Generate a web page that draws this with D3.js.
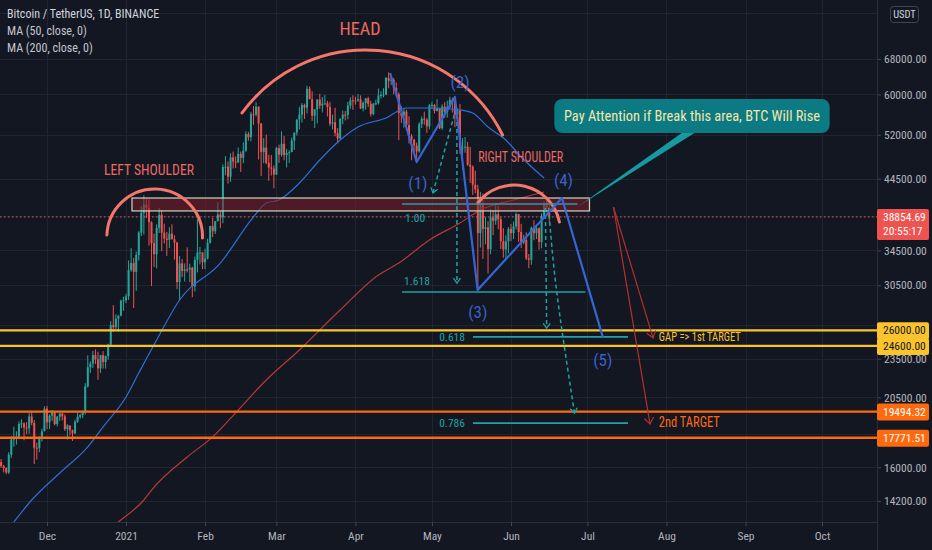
<!DOCTYPE html>
<html><head><meta charset="utf-8">
<script src="https://cdn.jsdelivr.net/npm/d3@7"></script>
<style>
html,body{margin:0;padding:0;background:#131722;}
svg{display:block;}
</style></head>
<body>
<svg id="chart" width="932" height="550"></svg>
<script>
// ---------------- DATA ----------------
const candleStart = "2020-11-12";
// daily candles [open, high, low, close], BTC/USDT
const ohlc = [
[15290,16340,15110,16310],[16310,16480,15970,16070],[16070,16140,15710,15960],[15960,16000,15620,15710],[15710,16880,15620,16730],[16730,17860,16540,17660],[17660,18480,17210,17780],
[17780,18180,17340,17810],[17810,18820,17760,18660],[18660,18970,18400,18700],[18700,18750,17610,18420],[18420,18770,18000,18370],[18370,19420,18020,19160],[19160,19480,18570,18720],
[18720,18920,16190,17150],[17150,17460,16440,17140],[17140,17850,16880,17720],[17720,18350,17530,18180],[18180,19860,18180,19700],[19700,19890,18320,18770],[18770,19310,18330,19210],
[19210,19600,18870,19420],[19420,19530,18570,18650],[18650,19180,18500,19150],[19150,19420,18860,19360],[19360,19420,18900,19170],[19170,19300,18200,18320],[18320,18640,17650,18550],
[18550,18560,17910,18250],[18250,18290,17570,18040],[18040,18950,18020,18810],[18810,19410,18730,19140],[19140,19350,19000,19250],[19250,19570,19050,19420],[19420,21560,19290,21310],
[21310,23800,21230,22810],[22810,23290,22350,23110],[23110,24170,22750,23820],[23820,24300,23060,23460],[23460,24100,21820,22720],[22720,23840,22350,23810],[23810,24150,22700,23240],
[23240,23780,22700,23730],[23730,24790,23430,24710],[24710,26870,24500,26490],[26490,28420,25860,26280],[26280,27500,26100,27080],[27080,27410,25880,27390],[27390,28990,27320,28880],
[28880,29300,27850,28920],[28920,29600,28620,29330],[29330,33300,28950,32180],[32180,34780,32000,33000],[33000,33600,28130,31990],[31990,34360,29900,33950],[33950,36940,33290,36770],
[36770,40370,36300,39430],[39430,41950,36500,40580],[40580,41380,38720,40090],[40090,41350,35110,38150],[38150,38260,30420,35400],[35400,36630,32530,34050],[34050,37850,32380,37370],
[37370,40100,36700,39150],[39150,39750,34410,36740],[36740,37950,35360,36000],[36000,36850,33850,35830],[35830,37470,34800,36630],[36630,37850,35900,35890],[35890,36420,33400,35470],
[35470,35600,30070,30850],[30850,33830,28850,32950],[32950,33460,31390,32080],[32080,32950,30900,32260],[32260,34880,31910,32250],[32250,32920,30840,32470],[32470,32560,29240,30370],
[30370,33780,29840,33360],[33360,38530,31920,34250],[34250,34930,32830,34260],[34260,34290,32300,33090],[33090,34720,32300,33530],[33530,35980,33420,35470],[35470,37660,35360,37620],
[37620,38710,36160,36940],[36940,38310,36570,38290],[38290,40960,38220,39190],[39190,39700,37350,38800],[38800,46790,37990,46370],[46370,48200,45020,46420],[46420,47310,43730,44810],
[44810,48680,43990,47970],[47970,48990,46130,47290],[47290,48150,46200,47150],[47150,49700,47000,48580],[48580,49000,45570,47910],[47910,50600,47010,49130],[49130,52620,48950,52120],
[52120,52530,50900,51550],[51550,56370,50810,55910],[55910,57560,53860,55840],[55840,58350,55480,57410],[57410,57530,47620,54090],[54090,54180,44890,48890],[48890,51370,47000,49680],
[49680,52040,46820,47070],[47070,48430,44160,46280],[46280,48390,45000,46110],[46110,46640,43000,45140],[45140,49790,45120,49590],[49590,50200,47050,48440],[48440,52640,48100,50350],
[50350,51770,47500,48370],[48370,49450,46300,48750],[48750,49200,47070,48880],[48880,51450,48880,50970],[50970,52400,49270,52380],[52380,54900,51850,54880],[54880,57390,53000,55850],
[55850,58150,54270,57770],[57770,58060,55000,57220],[57220,61840,56080,61190],[61190,61680,58970,58970],[58970,60630,54600,55610],[55610,56940,53270,56900],[56900,58990,54120,58910],
[58910,60100,57020,57650],[57650,59470,56270,58030],[58030,59880,57820,58100],[58100,58640,55480,57350],[57350,58420,53650,54080],[54080,55830,53000,54340],[54340,57200,51700,52300],
[52300,53240,50430,51290],[51290,55070,51280,55030],[55030,56640,53960,55820],[55820,56560,54690,55780],[55780,58400,54900,57640],[57640,59370,57000,58750],[58750,59800,56770,58740],
[58740,59490,57850,58720],[58720,60040,58430,58960],[58960,59760,56960,57060],[57060,58500,56480,58200],[58200,59250,56800,59130],[59130,59480,57350,57990],[57990,58650,55470,55950],
[55950,58150,55700,58080],[58080,58880,57700,58140],[58140,61250,57870,59770],[59770,60680,59130,59860],[59860,61300,59360,59970],[59970,63800,59810,63580],[63580,64850,61300,62960],
[62960,63800,62020,63160],[63160,63590,60000,61330],[61330,62580,59600,60010],[60010,60400,51000,56150],[56150,57530,54220,55630],[55630,57100,53330,56430],[56430,56820,53620,53790],
[53790,55500,50400,51690],[51690,52130,47500,51130],[51130,51170,48750,50050],[50050,50580,47000,49000],[49000,54360,48800,54020],[54020,55460,53250,55030],[55030,56430,53880,54830],
[54830,55200,52330,53560],[53560,57960,53010,57700],[57700,58450,57050,57800],[57800,57950,56040,56580],[56580,58980,56480,57170],[57170,57200,53050,53200],[53200,57910,52900,57440],
[57440,58360,55200,56390],[56390,58650,55240,57310],[57310,59500,56970,58860],[58860,59300,56240,58240],[58240,59500,53400,55820],[55820,56870,54370,56670],[56670,58000,48600,49630],
[49630,51360,46000,49670],[49670,51560,48800,49840],[49840,50700,46560,46760],[46760,49800,43830,46430],[46430,46640,42000,43540],[43540,45800,42250,42850],[42850,43550,30000,36690],
[36690,42460,34850,40530],[40530,42200,33490,37250],[37250,38830,35260,37450],[37450,38280,31800,34660],[34660,39920,34040,38800],[38800,39800,36420,38320],[38320,40840,37800,39240],
[39240,40410,37200,38530],[38530,38860,34680,35660],[35660,37340,33630,34610],[34610,36400,33380,35640],[35640,37490,34150,37250],[37250,37900,35670,36690],[36690,38230,35920,37570],
[37570,39480,37170,39250],[39250,39290,35560,36830],[36830,37920,34800,35510],[35510,36490,35260,35800],[35800,36790,33350,33550],[33550,34070,32400,33380],[33380,37530,32800,37390],
[37390,38400,35780,36680],[36680,37690,35920,37330],[37330,37440,34600,35550],[35550,39380,34760,39020],[39020,41060,38730,40520],[40520,41330,39510,40140],[40140,40530,38120,38855]
];
// moving averages [date, value]
const ma50 = [["2020-11-12",12300],["2020-11-18",13180],["2020-11-25",14250],["2020-12-06",15680],["2020-12-17",17200],["2020-12-23",18460],["2021-01-01",20530],["2021-01-06",22350],["2021-01-13",25120],["2021-01-22",28950],["2021-02-07",33000],["2021-02-20",38850],["2021-02-25",40820],["2021-03-02",41260],["2021-03-10",43820],["2021-03-18",47540],["2021-03-26",51030],["2021-04-02",53430],["2021-04-13",55170],["2021-04-21",57160],["2021-04-30",57160],["2021-05-12",56760],["2021-05-17",56160],["2021-05-23",53430],["2021-05-30",51030],["2021-06-05",48050],["2021-06-14",44600]];
const ma200 = [["2020-12-20",12300],["2020-12-29",13180],["2021-01-08",14250],["2021-01-11",14760],["2021-01-25",16600],["2021-02-04",17820],["2021-02-14",19600],["2021-02-25",21800],["2021-03-10",24250],["2021-03-26",27940],["2021-04-10",31630],["2021-04-18",33000],["2021-04-30",35810],["2021-05-12",38030],["2021-05-20",39820],["2021-06-02",41260],["2021-06-14",42450]];
// price scale grid levels; labelled ones are those not hidden behind badges
const priceGrid = [80000,68000,60000,52000,44500,39000,34500,30500,26500,23500,20500,18000,16000,14200];
const priceLabels = [68000,60000,52000,44500,34500,30500,23500,20500,16000,14200];
const monthTicks = ["2020-12-01","2021-01-01","2021-02-01","2021-03-01","2021-04-01","2021-05-01","2021-06-01","2021-07-01","2021-08-01","2021-09-01","2021-10-01"];
const monthLabels = ["Dec","2021","Feb","Mar","Apr","May","Jun","Jul","Aug","Sep","Oct"];
const legendLines = ["Bitcoin / TetherUS, 1D, BINANCE","MA (50, close, 0)","MA (200, close, 0)"];
const lastPrice = 38854.69;
const countdown = "20:55:17";
const yellowLevels = [26000, 24600];
const orangeLevels = [19494.32, 17771.51];
// drawings
const headArc = [["2021-02-15T12:00Z",56160],["2021-04-06T00:00Z",70200],["2021-05-28T17:00Z",51950]];
const leftShoulderArc = [["2020-12-24T12:00Z",36450],["2021-01-13T00:00Z",42900],["2021-01-31T00:00Z",36060]];
const rightShoulderArc = [["2021-05-19T00:00Z",40820],["2021-06-03T00:00Z",43510],["2021-06-20T00:00Z",38160]];
const zoneBox = [["2021-01-03T08:00Z",41550],["2021-07-01T19:00Z",39690]];
const wavePoints = [["2021-04-14T14:00Z",64710],["2021-04-25T00:00Z",47210],["2021-05-10T00:00Z",59430],["2021-05-18T22:00Z",30000],["2021-06-21T00:00Z",41550],["2021-07-07T00:00Z",25400]];
const waveLabels = ["(1)","(2)","(3)","(4)","(5)"];
const waveLabelAt = [["2021-04-25T12:00Z",43820],["2021-05-12T00:00Z",62680],["2021-05-19T00:00Z",27740],["2021-06-21T14:00Z",44290],["2021-07-07T00:00Z",23400]];
const fibLabels = ["1.00","1.618","0.618","0.786"];
const fibPrices = [40680, 29780, 25400, 18710];
const fibFrom = ["2021-04-19T07:00Z","2021-04-19T07:00Z","2021-05-17T02:00Z","2021-05-17T02:00Z"];
const fibTo = ["2021-06-27T02:00Z","2021-06-30T05:00Z","2021-07-16T22:00Z","2021-07-16T22:00Z"];
const projections = [
  [["2021-05-10T12:00Z",57160],["2021-05-06T00:00Z",49250],["2021-05-01T10:00Z",42300]],
  [["2021-05-10T19:00Z",57160],["2021-05-10T19:00Z",30740]],
  [["2021-06-14T12:00Z",40110],["2021-06-15T00:00Z",26200]],
  [["2021-06-15T19:00Z",40110],["2021-06-19T00:00Z",29680],["2021-06-25T22:00Z",19390]]
];
const targetArrows = [
  [["2021-07-11T05:00Z",40250],["2021-07-26T17:00Z",25310]],
  [["2021-07-11T05:00Z",40250],["2021-07-25T13:00Z",18650]]
];
const headText = ["HEAD", "2021-04-02T19:00Z", 75900];
const leftShoulderText = ["LEFT SHOULDER", "2021-01-10T00:00Z", 45890];
const rightShoulderText = ["RIGHT SHOULDER", "2021-06-04T19:00Z", 48050];
const target1Text = ["GAP => 1st TARGET", "2021-07-29T00:00Z", 25400];
const target2Text = ["2nd TARGET", "2021-07-29T00:00Z", 18770];
const calloutText = "Pay Attention if Break this area, BTC Will Rise";
const calloutBox = [["2021-06-18T00:00Z",59010],["2021-10-04T00:00Z",52320]];
const calloutTip = ["2021-06-27T00:00Z",40250];
const calloutBase = ["2021-08-08T02:00Z","2021-08-13T05:00Z"];

// ---------------- CHART ----------------
const W = 932, H = 550, plotR = 877, plotB = 522;
const FONT = "'Liberation Sans Narrow','Roboto Condensed','DejaVu Sans Condensed','Liberation Sans',sans-serif";
const BG = "#131722";
const svg = d3.select("#chart").style("font-family", FONT);
svg.append("rect").attr("width", W).attr("height", H).attr("fill", BG);

const x = d3.scaleUtc().domain([new Date("2020-12-01T00:00Z"), new Date("2021-10-01T00:00Z")]).range([47, 822]);
const y = d3.scaleLog().domain([68000, 14200]).range([59, 501]);
const X = s => x(new Date(s.length === 10 ? s + "T00:00Z" : s));
const P = d => [X(d[0]), y(d[1])];

const defs = svg.append("defs");
defs.append("clipPath").attr("id", "plot").append("rect").attr("x", 0).attr("y", 0).attr("width", plotR).attr("height", plotB);

// grid
const grid = svg.append("g").attr("clip-path", "url(#plot)");
grid.selectAll(".hg").data(priceGrid).join("line")
  .attr("x1", 0).attr("x2", plotR).attr("y1", d => Math.round(y(d)) + 0.5).attr("y2", d => Math.round(y(d)) + 0.5)
  .attr("stroke", "#1f2431").attr("stroke-width", 1);
grid.selectAll(".vg").data(monthTicks).join("line")
  .attr("x1", d => Math.round(X(d)) + 0.5).attr("x2", d => Math.round(X(d)) + 0.5).attr("y1", 0).attr("y2", plotB)
  .attr("stroke", "#1f2431").attr("stroke-width", 1);

// axes
const yAxis = d3.axisRight(y).tickValues(priceLabels).tickFormat(d3.format(".2f")).tickSize(4).tickPadding(3);
const gy = svg.append("g").attr("transform", `translate(${plotR},0)`).call(yAxis);
gy.select(".domain").attr("stroke", "#2a2e39");
gy.selectAll(".tick line").attr("stroke", "#434651");
gy.selectAll(".tick text").attr("fill", "#b2b5be").style("font-size", "11.5px").style("font-family", FONT);

const xAxis = d3.axisBottom(x).tickValues(monthTicks.map(d => new Date(d + "T00:00Z"))).tickFormat((d, i) => monthLabels[i]).tickSize(4).tickPadding(6);
const gx = svg.append("g").attr("transform", `translate(0,${plotB})`).call(xAxis);
gx.select(".domain").attr("stroke", "#2a2e39").attr("d", `M0,0.5H${plotR}`);
gx.selectAll(".tick line").attr("stroke", "#434651");
gx.selectAll(".tick text").attr("fill", "#b2b5be").style("font-size", "11.5px").style("font-family", FONT);
svg.append("line").attr("x1", plotR + 0.5).attr("x2", plotR + 0.5).attr("y1", 0).attr("y2", H).attr("stroke", "#2a2e39");

const plot = svg.append("g").attr("clip-path", "url(#plot)");

// candles
const day0 = new Date(candleStart + "T00:00Z");
const cdata = ohlc.map((r, i) => ({ date: d3.utcDay.offset(day0, i), o: r[0], h: r[1], l: r[2], c: r[3] }));
const cg = plot.append("g");
cg.selectAll("line").data(cdata).join("line")
  .attr("x1", d => x(d.date)).attr("x2", d => x(d.date))
  .attr("y1", d => y(d.h)).attr("y2", d => y(d.l))
  .attr("stroke", d => d.c >= d.o ? "#26a69a" : "#ef5350").attr("stroke-width", 1);
cg.selectAll("rect").data(cdata).join("rect")
  .attr("x", d => x(d.date) - 1).attr("width", 2)
  .attr("y", d => y(Math.max(d.o, d.c)))
  .attr("height", d => Math.max(1, Math.abs(y(d.o) - y(d.c))))
  .attr("fill", d => d.c >= d.o ? "#26a69a" : "#ef5350");

// moving averages
const maLine = d3.line().x(d => P(d)[0]).y(d => P(d)[1]).curve(d3.curveMonotoneX);
plot.append("path").attr("d", maLine(ma50)).attr("fill", "none").attr("stroke", "#2f6fd6").attr("stroke-width", 1.2);
plot.append("path").attr("d", maLine(ma200)).attr("fill", "none").attr("stroke", "#b8383a").attr("stroke-width", 1.2);

// current price dotted line
plot.append("line").attr("x1", 0).attr("x2", plotR).attr("y1", y(lastPrice)).attr("y2", y(lastPrice))
  .attr("stroke", "#ef5350").attr("stroke-width", 1).attr("stroke-dasharray", "1.5,2.5");

// horizontal levels
plot.selectAll(".yl").data(yellowLevels).join("line")
  .attr("x1", 0).attr("x2", plotR).attr("y1", d => y(d)).attr("y2", d => y(d))
  .attr("stroke", "#fcc42c").attr("stroke-width", 2.2);
plot.selectAll(".ol").data(orangeLevels).join("line")
  .attr("x1", 0).attr("x2", plotR).attr("y1", d => y(d)).attr("y2", d => y(d))
  .attr("stroke", "#ff6a0e").attr("stroke-width", 2.4);

// zone rectangle
const zb0 = P(zoneBox[0]), zb1 = P(zoneBox[1]);
plot.append("rect").attr("x", zb0[0]).attr("y", zb0[1]).attr("width", zb1[0] - zb0[0]).attr("height", zb1[1] - zb0[1])
  .attr("fill", "rgba(128,30,44,0.55)").attr("stroke", "#d9d3bb").attr("stroke-width", 1.2);

// arcs through three anchor points
function arc3(pts) {
  const [a, b, c] = pts.map(P);
  const d = 2 * (a[0] * (b[1] - c[1]) + b[0] * (c[1] - a[1]) + c[0] * (a[1] - b[1]));
  const A = a[0] ** 2 + a[1] ** 2, B = b[0] ** 2 + b[1] ** 2, C = c[0] ** 2 + c[1] ** 2;
  const ux = (A * (b[1] - c[1]) + B * (c[1] - a[1]) + C * (a[1] - b[1])) / d;
  const uy = (A * (c[0] - b[0]) + B * (a[0] - c[0]) + C * (b[0] - a[0])) / d;
  const r = Math.hypot(a[0] - ux, a[1] - uy);
  const cross = (b[0] - a[0]) * (c[1] - a[1]) - (b[1] - a[1]) * (c[0] - a[0]);
  const chord = Math.hypot(c[0] - a[0], c[1] - a[1]);
  const sag = Math.abs(cross) / chord;
  return `M${a[0]},${a[1]} A${r},${r} 0 ${sag > r ? 1 : 0} ${cross > 0 ? 1 : 0} ${c[0]},${c[1]}`;
}
const ARC = "#f5766b";
[headArc, leftShoulderArc, rightShoulderArc].forEach(a => {
  plot.append("path").attr("d", arc3(a)).attr("fill", "none").attr("stroke", ARC).attr("stroke-width", 3).attr("stroke-linecap", "round");
});

// fib lines
const TEAL = "#1fa3a3";
fibPrices.forEach((p, i) => {
  const x1 = X(fibFrom[i]), x2 = X(fibTo[i]), yy = y(p);
  plot.append("line").attr("x1", x1).attr("x2", x2).attr("y1", yy).attr("y2", yy).attr("stroke", TEAL).attr("stroke-width", 1.6);
  const t = plot.append("text").text(fibLabels[i]).attr("fill", TEAL).style("font-size", "11.5px").attr("dy", "0.36em");
  if (i === 0) t.attr("x", x1 + 3).attr("y", yy + 14);
  else if (i === 1) t.attr("x", x1 + 2).attr("y", yy - 11);
  else t.attr("x", x1 - 8).attr("y", yy).attr("text-anchor", "end");
});

// arrowhead helper
function chevron(g, from, to, color, len, w) {
  const ang = Math.atan2(to[1] - from[1], to[0] - from[0]);
  const a1 = [to[0] - len * Math.cos(ang - Math.PI / 5), to[1] - len * Math.sin(ang - Math.PI / 5)];
  const a2 = [to[0] - len * Math.cos(ang + Math.PI / 5), to[1] - len * Math.sin(ang + Math.PI / 5)];
  g.append("path").attr("d", `M${a1}L${to}L${a2}`).attr("fill", "none").attr("stroke", color).attr("stroke-width", w);
}

// dashed projections
const projLine = d3.line().curve(d3.curveNatural);
projections.forEach(pr => {
  const pts = pr.map(P);
  plot.append("path").attr("d", projLine(pts)).attr("fill", "none").attr("stroke", TEAL).attr("stroke-width", 1.5).attr("stroke-dasharray", "4,3");
  chevron(plot, pts[pts.length - 2], pts[pts.length - 1], TEAL, 6, 1.3);
});

// wave lines
const BLUE = "#3566d4";
plot.append("path").attr("d", d3.line()(wavePoints.map(P))).attr("fill", "none").attr("stroke", BLUE).attr("stroke-width", 2.2).attr("stroke-linejoin", "round");
waveLabels.forEach((t, i) => {
  const p = P(waveLabelAt[i]);
  plot.append("text").text(t).attr("x", p[0]).attr("y", p[1]).attr("dy", "0.36em").attr("text-anchor", "middle")
    .attr("fill", "#3a62c9").style("font-size", "17px");
});

// red target arrows
const DRED = "#b3302f";
targetArrows.forEach(ar => {
  const pts = ar.map(P);
  plot.append("line").attr("x1", pts[0][0]).attr("y1", pts[0][1]).attr("x2", pts[1][0]).attr("y2", pts[1][1]).attr("stroke", DRED).attr("stroke-width", 1.2);
  chevron(plot, pts[0], pts[1], DRED, 8, 1.2);
});

// labels
function label(def, color, size, anchor, len) {
  const p = P([def[1], def[2]]);
  const t = plot.append("text").text(def[0]).attr("x", p[0]).attr("y", p[1]).attr("dy", "0.36em").attr("text-anchor", anchor)
    .attr("fill", color).style("font-size", size);
  if (len) t.attr("textLength", len).attr("lengthAdjust", "spacingAndGlyphs");
}
label(headText, "#f0675f", "18.5px", "middle", 41);
label(leftShoulderText, "#ec6a62", "14.5px", "middle", 90);
label(rightShoulderText, "#ec6a62", "14px", "middle", 85);
label(target1Text, "#f7c12f", "12.5px", "start", 82);
label(target2Text, "#ff6a0e", "14px", "start", 61);

// callout
const cb0 = P(calloutBox[0]), cb1 = P(calloutBox[1]);
const tip = P(calloutTip);
const bx1 = X(calloutBase[0]), bx2 = X(calloutBase[1]);
plot.append("path").attr("d", `M${bx1},${cb1[1] - 2}L${tip[0]},${tip[1]}L${bx2},${cb1[1] - 2}Z`).attr("fill", "#169aa1");
plot.append("rect").attr("x", cb0[0]).attr("y", cb0[1]).attr("width", cb1[0] - cb0[0]).attr("height", cb1[1] - cb0[1])
  .attr("rx", 8).attr("fill", "#0c7a83");
plot.append("text").text(calloutText).attr("x", (cb0[0] + cb1[0]) / 2).attr("y", (cb0[1] + cb1[1]) / 2).attr("dy", "0.36em")
  .attr("text-anchor", "middle").attr("fill", "#f4e7a8").style("font-size", "14px")
  .attr("textLength", 256).attr("lengthAdjust", "spacingAndGlyphs");

// legend
legendLines.forEach((t, i) => {
  svg.append("text").text(t).attr("x", 7).attr("y", 18 + i * 17).attr("fill", i === 0 ? "#d1d4dc" : "#c3c6ce").style("font-size", "12px");
});

// price badges
function badge(price, lines, bg, fg) {
  const yy = y(price);
  const h = lines.length * 14 + 3;
  svg.append("rect").attr("x", plotR).attr("y", yy - 8).attr("width", 52).attr("height", h).attr("rx", 2).attr("fill", bg);
  lines.forEach((t, i) => {
    svg.append("text").text(t).attr("x", plotR + 6).attr("y", yy + i * 14).attr("dy", "0.36em").attr("fill", fg).style("font-size", "11.5px");
  });
}
badge(lastPrice, [d3.format(".2f")(lastPrice), countdown], "#ef5350", "#ffffff");
yellowLevels.forEach(v => badge(v, [d3.format(".2f")(v)], "#fcc42c", "#131722"));
orangeLevels.forEach(v => badge(v, [d3.format(".2f")(v)], "#ff6a0e", "#ffffff"));

// USDT box
svg.append("rect").attr("x", 890.5).attr("y", 6.5).attr("width", 28).attr("height", 16).attr("rx", 3)
  .attr("fill", BG).attr("stroke", "#434651");
svg.append("text").text("USDT").attr("x", 904.5).attr("y", 14.5).attr("dy", "0.36em").attr("text-anchor", "middle")
  .attr("fill", "#d1d4dc").style("font-size", "10.5px");
</script>
</body></html>
